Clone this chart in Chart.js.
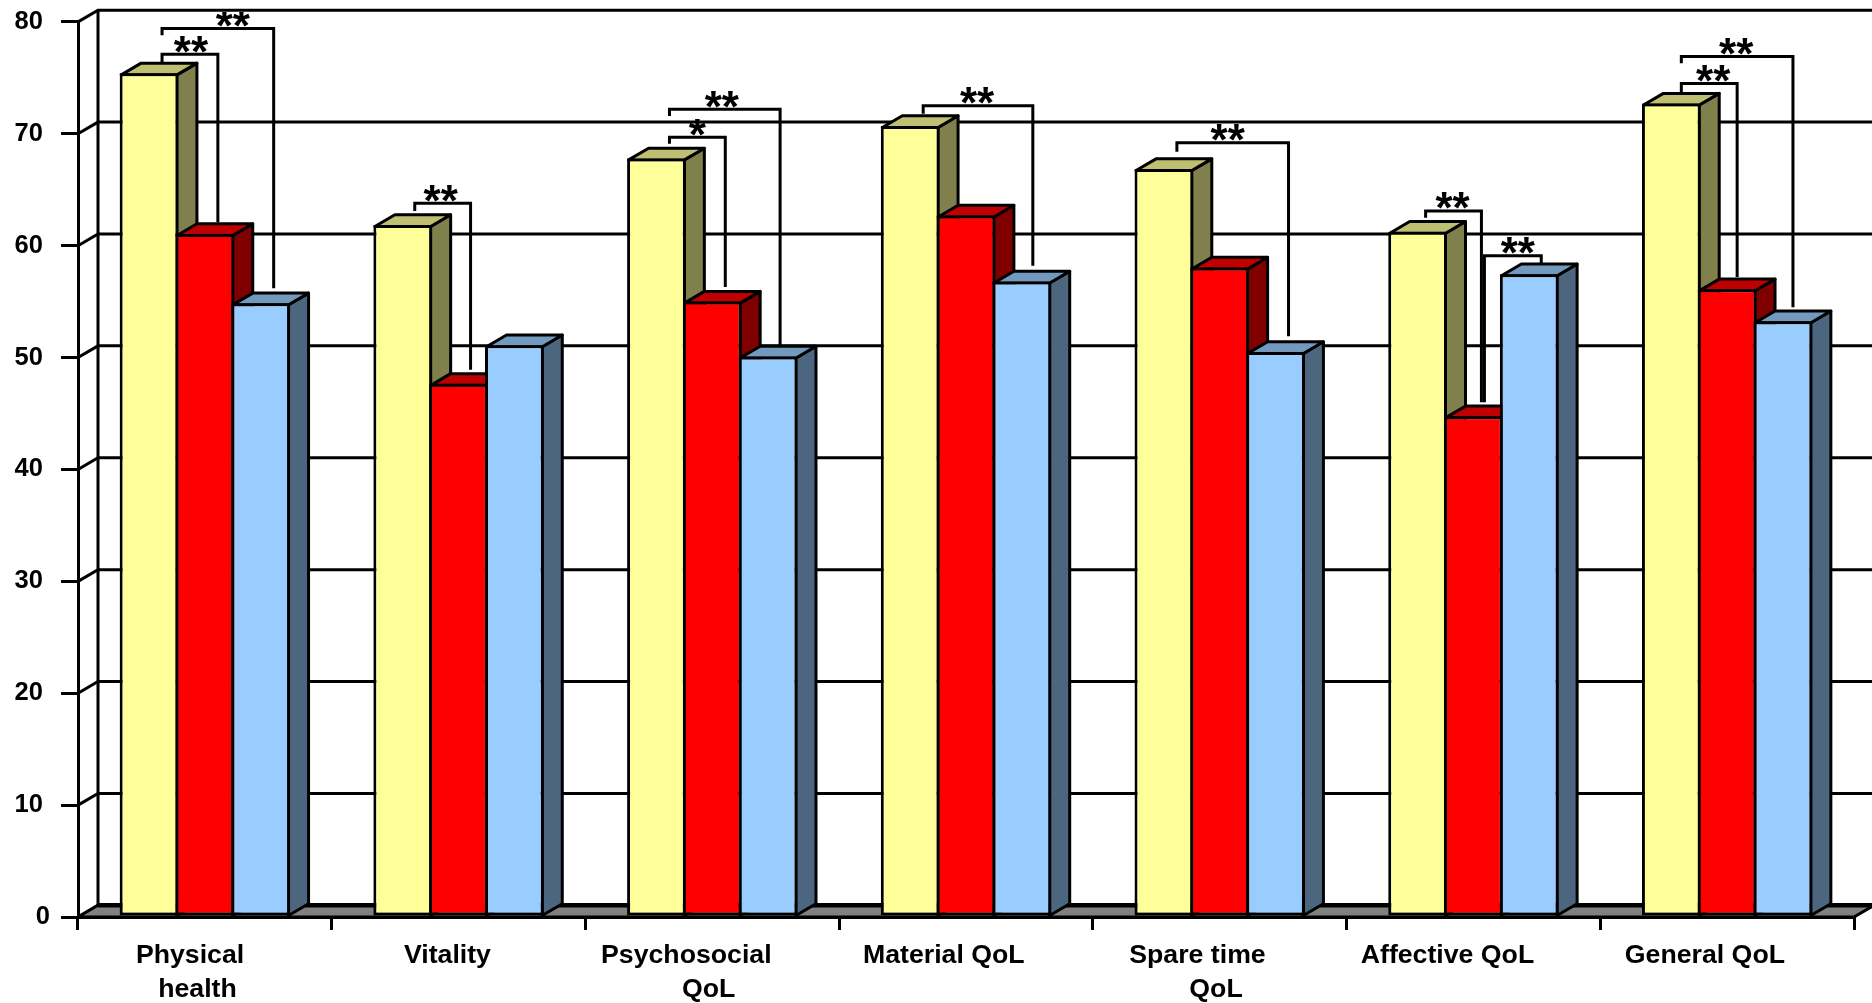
<!DOCTYPE html>
<html>
<head>
<meta charset="utf-8">
<title>QoL chart</title>
<script src="https://cdn.jsdelivr.net/npm/chart.js@4"></script>
<style>
  html, body { margin: 0; padding: 0; background: #fff; overflow: hidden; }
  canvas { display: block; }
</style>
</head>
<body>
<canvas id="chart" width="1872" height="1003"></canvas>
<script>
// Chart data
const categories = [
  ["Physical", "health"], "Vitality", ["Psychosocial", "QoL"], "Material QoL",
  ["Spare time", "QoL"], "Affective QoL", "General QoL"
];
const yellowValues = [75.4, 61.85, 67.8, 70.7, 66.85, 61.25, 72.7];
const redValues = [61.05, 47.65, 55.0, 62.7, 58.05, 44.75, 56.1];
const blueValues = [54.85, 51.1, 50.1, 56.8, 50.5, 57.45, 53.25];
const yTicks = [0, 10, 20, 30, 40, 50, 60, 70, 80];

// Significance brackets: category, series at each end, marks, and the y values of the line
const bracketCategory = [0, 0, 1, 2, 2, 3, 4, 5, 5, 6, 6];
const bracketFrom = [0, 0, 0, 0, 0, 0, 0, 0, 1, 0, 0];
const bracketTo = [1, 2, 1, 1, 2, 2, 2, 1, 2, 1, 2];
const bracketMark = ["**", "**", "**", "*", "**", "**", "**", "**", "**", "**", "**"];
const bracketTop = [77.1, 79.4, 63.8, 69.7, 72.2, 72.5, 69.2, 63.1, 59.1, 74.5, 76.9];
const bracketLeftEnd = [76.3, 78.8, 63.1, 69.1, 71.6, 71.8, 68.4, 62.5, 46.0, 73.7, 76.3];
const bracketRightEnd = [62.1, 56.2, 48.9, 56.3, 51.0, 58.2, 51.9, 46.0, 58.4, 57.2, 54.5];

// Look of the fake 3D box
const depthX = 20;
const depthY = 11.7;
const lineW = 3;
const FONT = "'Liberation Sans', Arial, sans-serif";
const faces = [
  { side: "#80804D", top: "#BFBF73" },
  { side: "#800000", top: "#BF0000" },
  { side: "#4D6680", top: "#7399BF" }
];
// small nudges for the hand placed brackets
const leftNudge = [0, 0, -1, 0, 0, 0, 0, -5, -2, -3, -3];
const rightNudge = [0, 0, -1, 0, -1, -2, 0, -5, -1, -3, -3];
const markShift = [1, 15, -2, 0, -3, -1, -5, -1, 5, 4, -1];
// trailing spaces push the centred axis labels left, like the original
const labelPad = [[4, 2], [3], [7, 1], [6], [6, 1], [7], [6]];

function poly(ctx, pts, fill) {
  ctx.beginPath();
  pts.forEach((p, i) => i ? ctx.lineTo(p[0], p[1]) : ctx.moveTo(p[0], p[1]));
  ctx.closePath();
  if (fill) {
    ctx.fillStyle = fill;
    ctx.fill();
  }
  ctx.stroke();
}

// side and top of each bar, the library then paints the front over them
function drawFaces(chart, index) {
  const ctx = chart.ctx;
  const meta = chart.getDatasetMeta(index);
  const face = faces[index];
  ctx.save();
  ctx.strokeStyle = "#000";
  ctx.lineWidth = lineW;
  ctx.lineJoin = "round";
  meta.data.forEach(bar => {
    const p = bar.getProps(["x", "y", "base", "width"]);
    const l = p.x - p.width / 2 + lineW / 2;
    const r = p.x + p.width / 2 - lineW / 2;
    const t = p.y + lineW / 2;
    poly(ctx, [[r, t], [r + depthX, t - depthY], [r + depthX, p.base - depthY], [r, p.base]], face.side);
    poly(ctx, [[l, t], [l + depthX, t - depthY], [r + depthX, t - depthY], [r, t]], face.top);
  });
  ctx.restore();
  meta.controller.draw();
}

const box3d = {
  id: "box3d",
  // the library paints the last dataset first, we need yellow -> blue, so it is done below
  beforeDatasetDraw() {
    return false;
  },
  // back wall, gridlines, floor, then the bars
  beforeDatasetsDraw(chart) {
    const ctx = chart.ctx;
    const a = chart.chartArea;
    const y = chart.scales.y;
    ctx.save();
    ctx.strokeStyle = "#000";
    ctx.lineWidth = lineW;
    ctx.lineJoin = "miter";
    yTicks.forEach(v => {
      const py = y.getPixelForValue(v);
      ctx.beginPath();
      ctx.moveTo(a.left, py);
      ctx.lineTo(a.left + depthX, py - depthY);
      ctx.lineTo(a.right + depthX, py - depthY);
      ctx.stroke();
    });
    ctx.beginPath();
    ctx.moveTo(a.left + depthX, a.top - depthY);
    ctx.lineTo(a.left + depthX, a.bottom - depthY);
    ctx.stroke();
    // thin grey edge on the right
    ctx.strokeStyle = "#bdbdbd";
    ctx.lineWidth = 1;
    ctx.beginPath();
    ctx.moveTo(a.right + depthX - 0.5, a.top - depthY);
    ctx.lineTo(a.right + depthX - 0.5, a.bottom - depthY);
    ctx.stroke();
    // floor
    ctx.strokeStyle = "#000";
    ctx.lineWidth = lineW;
    poly(ctx, [
      [a.left, a.bottom], [a.left + depthX, a.bottom - depthY],
      [a.right + depthX, a.bottom - depthY], [a.right, a.bottom]
    ], "#808080");
    ctx.lineWidth = 4.5;
    ctx.beginPath();
    ctx.moveTo(a.left + depthX, a.bottom - depthY);
    ctx.lineTo(a.right + depthX, a.bottom - depthY);
    ctx.stroke();
    ctx.restore();
    [0, 1, 2].forEach(i => drawFaces(chart, i));
  },
  // brackets and stars sit on top of everything
  afterDatasetsDraw(chart) {
    const ctx = chart.ctx;
    const y = chart.scales.y;
    const topOffset = 13;
    const ends = (cat, i) => [
      chart.getDatasetMeta(bracketFrom[i]).data[cat].x + topOffset + leftNudge[i],
      chart.getDatasetMeta(bracketTo[i]).data[cat].x + topOffset + rightNudge[i]
    ];
    ctx.save();
    ctx.strokeStyle = "#000";
    ctx.lineWidth = lineW;
    ctx.lineJoin = "miter";
    bracketCategory.forEach((cat, i) => {
      const [x1, x2] = ends(cat, i);
      const top = y.getPixelForValue(bracketTop[i]);
      ctx.beginPath();
      ctx.moveTo(x1, y.getPixelForValue(bracketLeftEnd[i]));
      ctx.lineTo(x1, top);
      ctx.lineTo(x2, top);
      ctx.lineTo(x2, y.getPixelForValue(bracketRightEnd[i]));
      ctx.stroke();
    });
    // stars get cut by the top line of the frame in the original
    ctx.beginPath();
    ctx.rect(0, 12, chart.width, chart.height);
    ctx.clip();
    ctx.fillStyle = "#000";
    ctx.font = "bold 44px " + FONT;
    ctx.textAlign = "center";
    ctx.textBaseline = "alphabetic";
    bracketCategory.forEach((cat, i) => {
      const [x1, x2] = ends(cat, i);
      const top = y.getPixelForValue(bracketTop[i]);
      ctx.fillText(bracketMark[i], (x1 + x2) / 2 + markShift[i], top + 12.5);
    });
    ctx.restore();
  }
};

const barStyle = {
  borderColor: "#000",
  borderWidth: lineW,
  borderSkipped: false,
  clip: false,
  categoryPercentage: 0.66,
  barPercentage: 1.053
};

new Chart(document.getElementById("chart"), {
  type: "bar",
  data: {
    labels: categories,
    datasets: [
      { label: "Yellow", data: yellowValues, backgroundColor: "#FFFF99", ...barStyle },
      { label: "Red", data: redValues, backgroundColor: "#FF0000", ...barStyle },
      { label: "Blue", data: blueValues, backgroundColor: "#99CCFF", ...barStyle }
    ]
  },
  options: {
    responsive: false,
    animation: false,
    layout: { padding: { top: 21.9, right: 18, left: 0, bottom: 0 } },
    plugins: { legend: { display: false }, tooltip: { enabled: false } },
    scales: {
      x: {
        afterFit(scale) {
          scale.height = 86;
          scale.paddingLeft = 0;
          scale.paddingRight = 0;
        },
        border: { color: "#000", width: lineW },
        grid: { drawOnChartArea: false, color: "#000", lineWidth: lineW, tickLength: 13 },
        ticks: {
          color: "#000",
          padding: 8,
          maxRotation: 0,
          autoSkip: false,
          font: { family: FONT, size: 26.7, weight: "bold", lineHeight: 1.3 },
          callback(value, i) {
            const lines = [].concat(this.getLabelForValue(value));
            return lines.map((s, n) => s + " ".repeat(labelPad[i][n]));
          }
        }
      },
      y: {
        min: 0,
        max: 80,
        afterFit(scale) {
          scale.width = 78;
          scale.paddingTop = 0;
          scale.paddingBottom = 0;
        },
        border: { color: "#000", width: lineW },
        grid: { drawOnChartArea: false, color: "#000", lineWidth: lineW, tickLength: 17 },
        ticks: {
          stepSize: 10,
          color: "#000",
          padding: 11,
          font: { family: FONT, size: 25.5, weight: "bold" },
          // the 0 sits further right than the other labels in the original
          callback: v => (v === 0 ? "0" : v + " ")
        }
      }
    }
  },
  plugins: [box3d]
});
</script>
</body>
</html>
